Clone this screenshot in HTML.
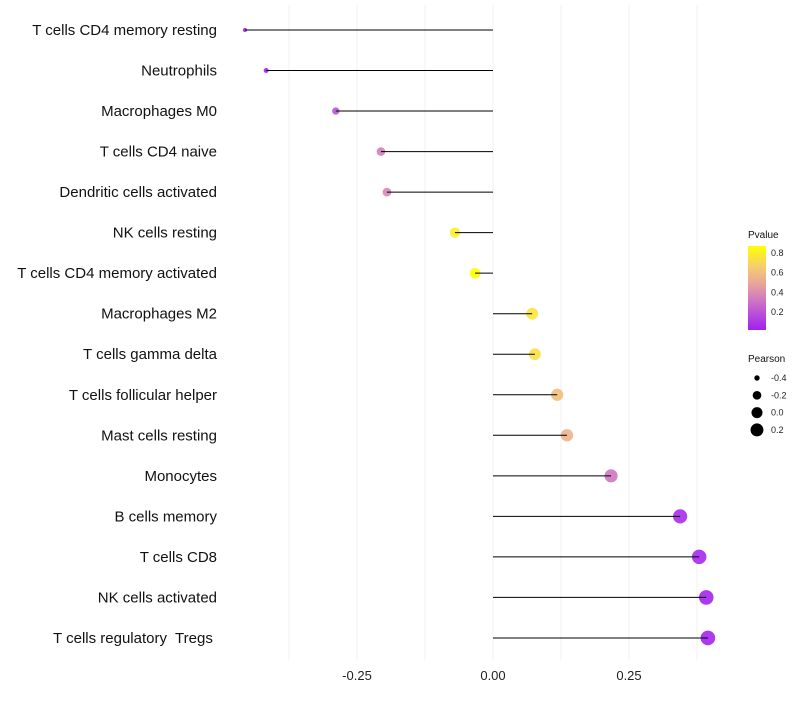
<!DOCTYPE html>
<html><head><meta charset="utf-8"><style>
body{margin:0;background:#fff;font-family:"Liberation Sans",sans-serif}
</style></head><body>
<svg id="c" width="800" height="700" xmlns="http://www.w3.org/2000/svg" font-family="Liberation Sans, sans-serif"></svg>
<script>
const categories=["T cells CD4 memory resting","Neutrophils","Macrophages M0","T cells CD4 naive","Dendritic cells activated","NK cells resting","T cells CD4 memory activated","Macrophages M2","T cells gamma delta","T cells follicular helper","Mast cells resting","Monocytes","B cells memory","T cells CD8","NK cells activated","T cells regulatory  Tregs "];
const pearson=[-0.456,-0.417,-0.289,-0.206,-0.195,-0.070,-0.033,0.072,0.077,0.118,0.136,0.217,0.344,0.379,0.392,0.395];
const pvalue=[0.03,0.04,0.2,0.35,0.38,0.8,0.87,0.76,0.74,0.6,0.55,0.32,0.07,0.05,0.04,0.04];
const xTicks=[-0.25,0,0.25];
const xTickLabels=["-0.25","0.00","0.25"];
const pLegend=[0.8,0.6,0.4,0.2];
const sizeLegend=[-0.4,-0.2,0.0,0.2];

const svg=document.getElementById('c');const NS="http://www.w3.org/2000/svg";
function mk(t,a,p){const e=document.createElementNS(NS,t);for(const k in a)e.setAttribute(k,a[k]);(p||svg).appendChild(e);return e;}
const x=v=>493+v*544;
const y=i=>30+i*40.53;
const rad=v=>Math.sqrt(Math.max(2,4+58*(v+0.456)));
const stops=[[0,[160,32,240]],[0.33,[204,112,200]],[0.55,[232,165,154]],[0.75,[245,204,112]],[1,[255,255,0]]];
function col(p){let t=(p-0.02)/(0.87-0.02);t=Math.max(0,Math.min(1,t));for(let i=1;i<stops.length;i++){if(t<=stops[i][0]){const a=stops[i-1],b=stops[i],f=(t-a[0])/(b[0]-a[0]);return 'rgb('+a[1].map((c,j)=>Math.round(c+(b[1][j]-c)*f)).join(',')+')';}}return 'rgb(255,255,0)';}
for(let v=-0.375;v<=0.376;v+=0.125){const g=mk('line',{x1:x(v),x2:x(v),y1:5,y2:660,stroke:'#f0f0f0','stroke-width':1});

}
xTicks.forEach((v,i)=>{const t=mk('text',{x:x(v),y:680,'text-anchor':'middle','font-size':13,fill:'#222'});t.textContent=xTickLabels[i];

});
categories.forEach((c,i)=>{
const t=mk('text',{x:217,y:y(i)+5,'text-anchor':'end','font-size':15,fill:'#111','xml:space':'preserve'});t.style.whiteSpace='pre';t.textContent=c;


const d=mk('circle',{cx:x(pearson[i]),cy:y(i),r:rad(pearson[i]),fill:col(pvalue[i]),'fill-opacity':0.9});


const l=mk('line',{x1:x(0),x2:x(pearson[i]),y1:y(i),y2:y(i),stroke:'#000','stroke-width':1});


});
const defs=mk('defs',{});const lg=mk('linearGradient',{id:'g',x1:0,y1:1,x2:0,y2:0},defs);
stops.forEach(s=>mk('stop',{offset:s[0],'stop-color':'rgb('+s[1].join(',')+')'},lg));
const lt=mk('text',{x:748,y:238,'font-size':10,fill:'#111'});lt.textContent='Pvalue';


const bar=mk('rect',{x:748,y:246,width:18,height:84,fill:'url(#g)'});


const py=p=>330-(p-0.02)/(0.87-0.02)*84;
pLegend.forEach(p=>{const t=mk('text',{x:771,y:py(p)+3,'font-size':9,fill:'#222'});t.textContent=p;

});
const st=mk('text',{x:748,y:362,'font-size':10,fill:'#111'});st.textContent='Pearson';


sizeLegend.forEach((v,i)=>{const cy=378+i*17.3;
const c=mk('circle',{cx:757,cy:cy,r:rad(v),fill:'#000'});


const t=mk('text',{x:771,y:cy+3,'font-size':9,fill:'#222'});t.textContent=v.toFixed(1);

});
</script>
</body></html>
